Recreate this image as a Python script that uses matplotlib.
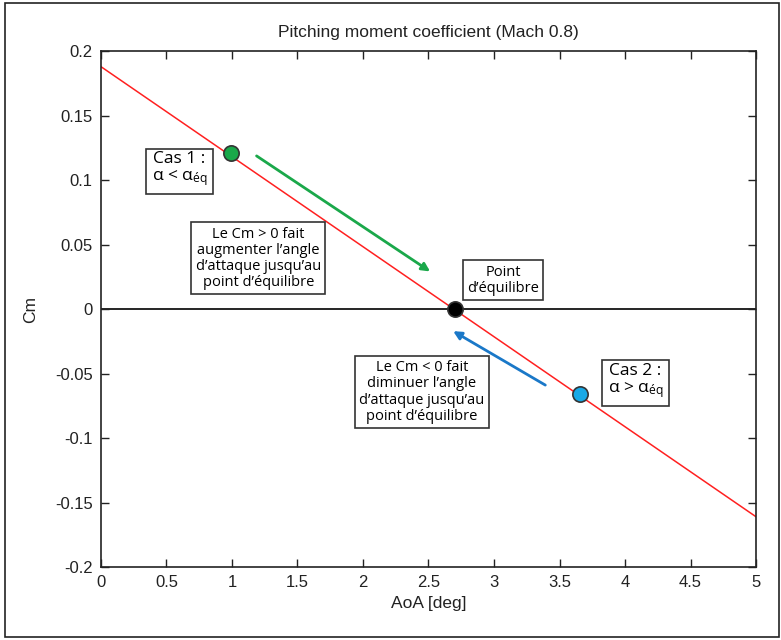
import matplotlib.pyplot as plt
from matplotlib.patches import Rectangle

# Cm(AoA) droite, Mach 0.8
aoa_line = [0.0, 5.0]
cm_line = [0.188, -0.161]

# points caractéristiques
aoa_pts = [0.99, 2.7, 3.66]
cm_pts = [0.121, 0.0, -0.066]
pt_colors = ['#1aa84a', '#000000', '#19a9e6']

# flèches (départ, arrivée)
arrow_green = [(1.17, 0.120), (2.53, 0.028)]
arrow_blue = [(3.41, -0.060), (2.67, -0.016)]

xticks = [0, 0.5, 1, 1.5, 2, 2.5, 3, 3.5, 4, 4.5, 5]
yticks = [-0.2, -0.15, -0.1, -0.05, 0, 0.05, 0.1, 0.15, 0.2]

plt.rcParams['font.family'] = ['Liberation Sans', 'DejaVu Sans']
plt.rcParams['mathtext.fontset'] = 'custom'
plt.rcParams['mathtext.rm'] = 'Open Sans'
plt.rcParams['mathtext.it'] = 'Open Sans'

fig = plt.figure(figsize=(7.81, 6.4), dpi=100)
ax = fig.add_axes([0.1293, 0.114, 0.8387, 0.806])

ax.axhline(0, color='black', lw=1.2, zorder=1)
ax.plot(aoa_line, cm_line, color='#ff2020', lw=1.1, zorder=2)

for x, y, c in zip(aoa_pts, cm_pts, pt_colors):
    ax.plot(x, y, 'o', ms=11, mfc=c, mec='#333333', mew=1.2, zorder=4)

ax.annotate('', xy=arrow_green[1], xytext=arrow_green[0],
            arrowprops=dict(arrowstyle='-|>', color='#1aa84a', lw=2, mutation_scale=12))
ax.annotate('', xy=arrow_blue[1], xytext=arrow_blue[0],
            arrowprops=dict(arrowstyle='-|>', color='#1a78c8', lw=2, mutation_scale=12))

box = dict(boxstyle='square,pad=0.3', fc='white', ec='#333333', lw=1.2)
tkw = dict(ha='center', va='center', fontsize=10.5, family=['Open Sans', 'DejaVu Sans'],
           bbox=box, linespacing=1.1, zorder=5)
cas = dict(tkw, fontsize=12.5, bbox=dict(box, boxstyle='square,pad=0.35'))
ax.text(0.60, 0.108, 'Cas 1 :\nα < α$_{éq}$', **cas)
ax.text(1.20, 0.0395, 'Le Cm > 0 fait\naugmenter l\u2019angle\nd\u2019attaque jusqu\u2019au\npoint d\u2019équilibre', **tkw)
ax.text(3.07, 0.0225, 'Point\nd\u2019équilibre', **tkw)
ax.text(2.45, -0.0643, 'Le Cm < 0 fait\ndiminuer l\u2019angle\nd\u2019attaque jusqu\u2019au\npoint d\u2019équilibre', **tkw)
ax.text(4.08, -0.056, 'Cas 2 :\nα > α$_{éq}$', **cas)

ax.set_xlim(0, 5)
ax.set_ylim(-0.2, 0.2)
ax.set_xticks(xticks)
ax.set_xticklabels([f'{t:g}' for t in xticks])
ax.set_yticks(yticks)
ax.set_yticklabels([f'{t:g}' for t in yticks])
ax.tick_params(direction='in', length=6, width=1, top=True, right=True, labelsize=12,
               colors='#222222', pad=6)
for s in ax.spines.values():
    s.set_linewidth(1.2)
    s.set_color('#222222')

ax.set_title('Pitching moment coefficient (Mach 0.8)', fontsize=12.5, color='#222222', pad=10)
ax.set_xlabel('AoA [deg]', fontsize=12.5, color='#222222')
ax.set_ylabel('Cm', fontsize=12.5, color='#222222', labelpad=12)

fig.patches.append(Rectangle((0.007, 0.004), 0.990, 0.991, transform=fig.transFigure,
                             fill=False, ec='#222222', lw=1.2))

fig.savefig('out.png', dpi=100)
